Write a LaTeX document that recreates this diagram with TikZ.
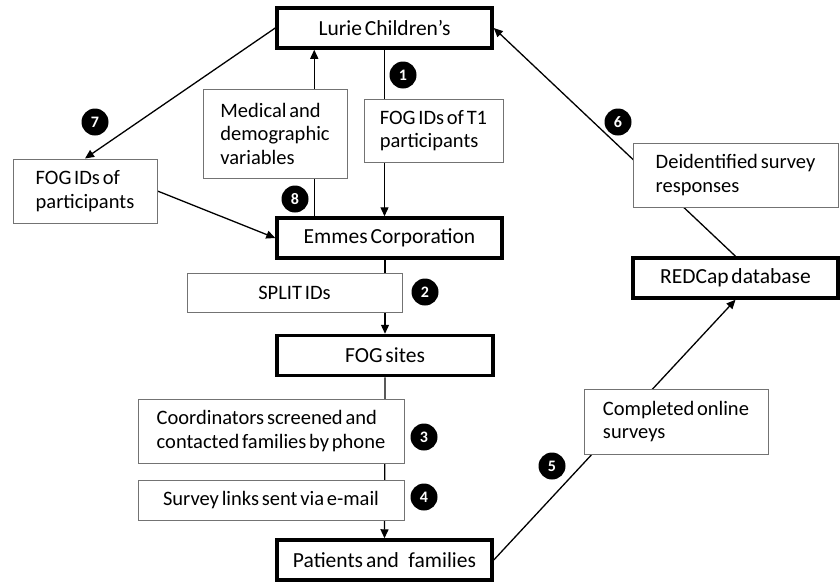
\documentclass[tikz,border=0pt]{standalone}
\usepackage{fontspec}
\setmainfont{Carlito}[WordSpace=0.6]
\usetikzlibrary{arrows.meta,backgrounds}

\begin{document}
\begin{tikzpicture}[x=1pt, y=-1pt,
    main/.style = {draw, line width=3.5pt, minimum height=40pt, inner sep=0pt,
                   font=\fontsize{21.5}{24}\selectfont},
    info/.style = {draw=black!55, line width=1pt, fill=white, align=left, inner sep=0pt,
                   font=\fontsize{20.5}{23.5}\selectfont},
    num/.style = {circle, fill=black, text=white, minimum size=27pt, inner sep=0pt,
                  font=\fontsize{16}{16}\selectfont\bfseries},
    arr/.style = {line width=1.3pt, -{Triangle[length=9pt, width=8pt]}}]
        \useasboundingbox (0,0) rectangle (840,581);

        % main stations
        \node[main, minimum width=215pt] (lurie) at (384.5,28) {Lurie Children's};
        \node[main, minimum width=225pt] (emmes) at (389.5,238) {Emmes Corporation};
        \node[main, minimum width=216pt] (sites) at (385,355.5) {FOG sites};
        \node[main, minimum width=215pt] (patients) at (384.5,560) {Patients and\;\,families};
        \node[main, minimum width=205pt] (redcap) at (735.5,278) {REDCap database};

        % what is passed along
        \node[info, minimum width=144pt, minimum height=89pt] (medical) at (275,133.5) {Medical and\\demographic\\variables};
        \node[info, minimum width=139pt, minimum height=63pt] (fogtone) at (433.5,130.5) {FOG IDs of T1\\participants};
        \node[info, minimum width=144pt, minimum height=64pt] (fogids) at (85,191) {FOG IDs of\\participants};
        \node[info, minimum width=205pt, minimum height=64pt] (deid) at (735.5,175) {Deidentified survey\\responses};
        \node[info, align=center, minimum width=215pt, minimum height=39pt] (split) at (294.5,292.5) {SPLIT IDs};
        \node[info, minimum width=266pt, minimum height=64pt] (coord) at (271,431) {Coordinators screened and\\contacted families by phone};
        \node[info, align=center, minimum width=266pt, minimum height=40pt] (links) at (271,500) {Survey links sent via e-mail};
        \node[info, minimum width=184pt, minimum height=65pt] (online) at (676,421.5) {Completed online\\surveys};

        % step numbers
        \node[num] (n1) at (403,75) {1};
        \node[num] (n2) at (425,292) {2};
        \node[num] (n3) at (424,437) {3};
        \node[num] (n4) at (424,497) {4};
        \node[num] (n5) at (552,466) {5};
        \node[num] (n6) at (618,122) {6};
        \node[num] (n7) at (95,122) {7};
        \node[num] (n8) at (295,199) {8};

        \begin{scope}[on background layer]
        \draw[arr] (lurie.south) -- (lurie.south |- emmes.north);
        \draw[arr] (sites.north |- emmes.south) -- (sites.north);
        \draw[arr] (sites.south) -- (patients.north);
        \draw[arr] (patients.east) -- (redcap.south);
        \draw[arr] (redcap.north) -- (lurie.east);
        \draw[arr] (lurie.west) -- (fogids.north);
        \draw[arr] (fogids.east) -- (emmes.west);
        \draw[arr] ([xshift=39pt]emmes.north west) -- ([xshift=39pt]lurie.south west);
        \end{scope}

    \end{tikzpicture}
\end{document}
